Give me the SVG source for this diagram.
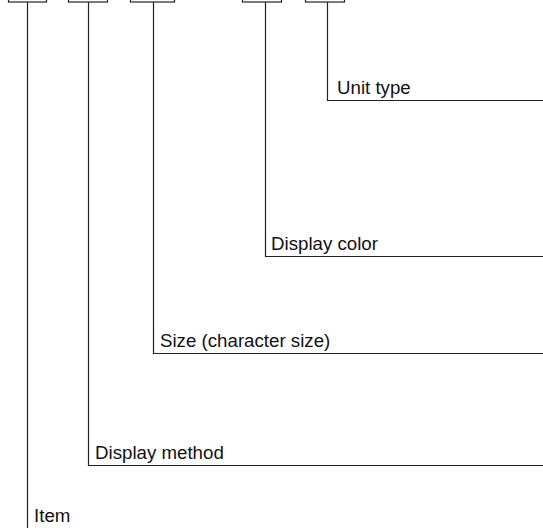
<svg xmlns="http://www.w3.org/2000/svg" width="543" height="528" viewBox="0 0 543 528">
<style>
.box{fill:#fff;stroke:#222;stroke-width:1.2}
.ln{fill:none;stroke:#222;stroke-width:1.2}
.lb{font-family:"Liberation Sans",Arial,sans-serif;font-size:18.7px;fill:#111}
</style>
<rect width="543" height="528" fill="#fff"/>
<g id="connectors">
<path class="ln" d="M27.5 2V528"/>
<path class="ln" d="M88.5 2V465.5H543"/>
<path class="ln" d="M153.5 2V353.5H543"/>
<path class="ln" d="M265.5 2V256.5H543"/>
<path class="ln" d="M327.5 2V100.5H543"/>
</g>
<g id="box-item"><rect class="box" x="8.5" y="-20" width="38" height="22"/></g>
<g id="box-display-method"><rect class="box" x="68.5" y="-20" width="39" height="22"/></g>
<g id="box-size"><rect class="box" x="130.5" y="-20" width="44" height="22"/></g>
<g id="box-display-color"><rect class="box" x="242.5" y="-20" width="39" height="22"/></g>
<g id="box-unit-type"><rect class="box" x="305.5" y="-20" width="39" height="22"/></g>
<g id="label-unit-type"><text class="lb" x="337" y="94">Unit type</text></g>
<g id="label-display-color"><text class="lb" x="271" y="250">Display color</text></g>
<g id="label-size"><text class="lb" x="160" y="347">Size (character size)</text></g>
<g id="label-display-method"><text class="lb" x="95" y="459">Display method</text></g>
<g id="label-item"><text class="lb" x="34" y="522">Item</text></g>
</svg>
